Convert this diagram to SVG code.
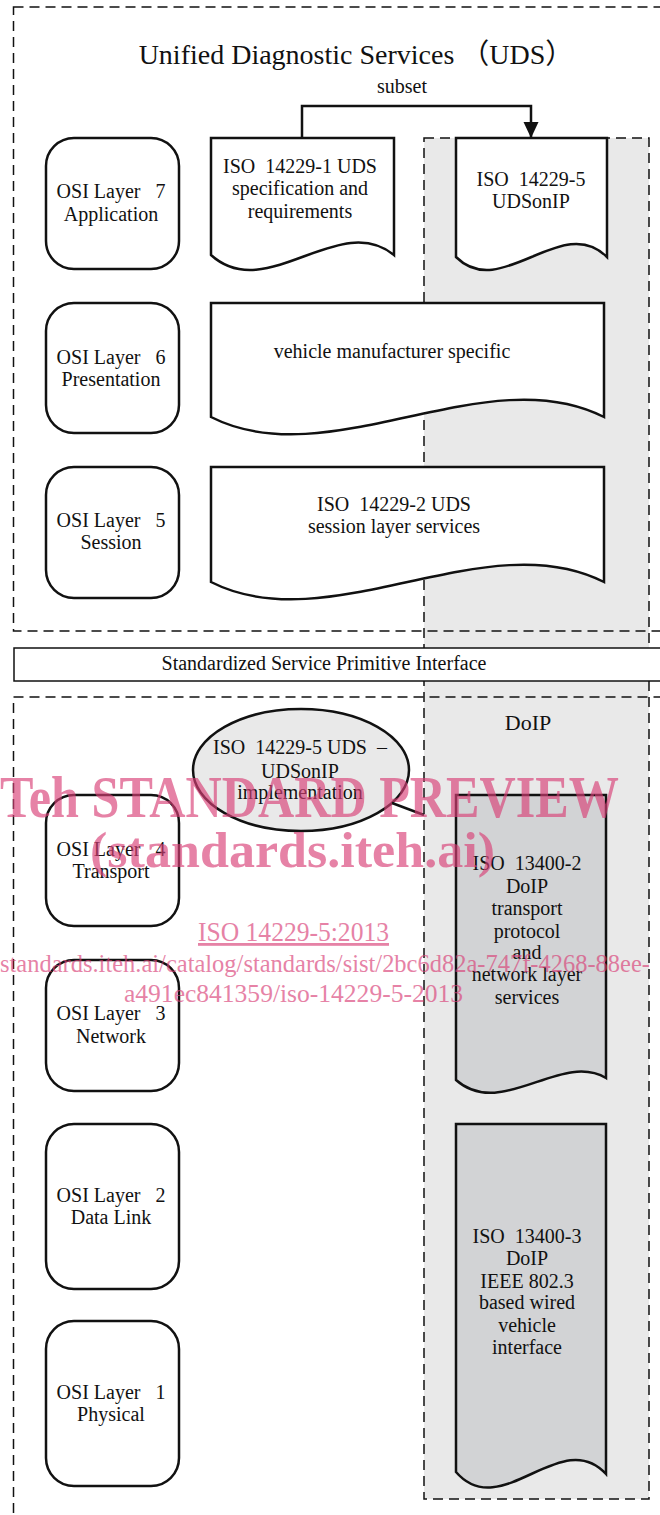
<svg xmlns="http://www.w3.org/2000/svg" width="660" height="1515" viewBox="0 0 660 1515">
<defs>
<style>
.t{font-family:"Liberation Serif","Noto Sans CJK SC",serif;font-size:20px;fill:#111;text-anchor:middle;white-space:pre}
.dash{fill:none;stroke:#111;stroke-width:1.5;stroke-dasharray:10 6}
.col{fill:#e9e9e9;stroke:#111;stroke-width:1.5;stroke-dasharray:10 6}
.node{fill:#fff;stroke:#111;stroke-width:2.5}
.gdoc{fill:#d2d3d5;stroke:#111;stroke-width:2.5}
.wm{font-family:"Liberation Serif",serif;fill:#d94077;opacity:0.65}
</style>
<marker id="arr" markerUnits="userSpaceOnUse" markerWidth="18" markerHeight="16" refX="16" refY="7.5" orient="auto">
<path d="M0,0 L16,7.5 L0,15 Z" fill="#111"/>
</marker>
</defs>
<rect width="660" height="1515" fill="#fff"/>

<g id="doip-column">
<rect x="424" y="138" width="225" height="1361" class="col"/>
</g>
<g id="uds-frame">
<rect x="13.5" y="7" width="700" height="624" class="dash"/>
<text class="t" x="356" y="64" style="font-size:28px">Unified Diagnostic Services （UDS）</text>
</g>
<g id="lower-frame">
<rect x="13.5" y="697" width="700" height="900" class="dash"/>
</g>
<g id="interface">
<rect x="14" y="648" width="700" height="33" fill="#fff" stroke="#111" stroke-width="1.5"/>
<text class="t" x="324" y="670">Standardized Service Primitive Interface</text>
</g>
<g id="doip-label">
<text class="t" x="528" y="730" style="font-size:22px">DoIP</text>
</g>

<g id="layer7"><rect class="node" x="46" y="138" width="133" height="131" rx="28"/>
<text class="t" x="111" y="198">OSI Layer   7</text><text class="t" x="111" y="221">Application</text></g>
<g id="layer6"><rect class="node" x="46" y="303" width="133" height="130" rx="28"/>
<text class="t" x="111" y="364">OSI Layer   6</text><text class="t" x="111" y="386">Presentation</text></g>
<g id="layer5"><rect class="node" x="46" y="467" width="133" height="131" rx="28"/>
<text class="t" x="111" y="527">OSI Layer   5</text><text class="t" x="111" y="549">Session</text></g>
<g id="layer4"><rect class="node" x="46" y="795" width="133" height="131" rx="28"/>
<text class="t" x="111" y="856">OSI Layer   4</text><text class="t" x="111" y="878">Transport</text></g>
<g id="layer3"><rect class="node" x="46" y="960" width="133" height="131" rx="28"/>
<text class="t" x="111" y="1020">OSI Layer   3</text><text class="t" x="111" y="1043">Network</text></g>
<g id="layer2"><rect class="node" x="46" y="1124" width="133" height="165" rx="28"/>
<text class="t" x="111" y="1202">OSI Layer   2</text><text class="t" x="111" y="1224">Data Link</text></g>
<g id="layer1"><rect class="node" x="46" y="1321" width="133" height="165" rx="28"/>
<text class="t" x="111" y="1399">OSI Layer   1</text><text class="t" x="111" y="1421">Physical</text></g>

<g id="iso14229-1"><path class="node" d="M211,138 H394 V255 C339,210 266,305 211,255 Z"/>
<text class="t" x="300" y="173">ISO  14229-1 UDS</text><text class="t" x="300" y="195">specification and</text><text class="t" x="300" y="218">requirements</text></g>
<g id="iso14229-5"><path class="node" d="M456,138 H607 V257 C562,212 501,302 456,257 Z"/>
<text class="t" x="531" y="186">ISO  14229-5</text><text class="t" x="531" y="208">UDSonIP</text></g>
<g id="vehicle-specific"><path class="node" d="M211,303 H604 V417 C486,357 329,477 211,417 Z"/>
<text class="t" x="392" y="358">vehicle manufacturer specific</text></g>
<g id="iso14229-2"><path class="node" d="M211,467 H604 V582 C486,522 329,642 211,582 Z"/>
<text class="t" x="394" y="511">ISO  14229-2 UDS</text><text class="t" x="394" y="533">session layer services</text></g>

<g id="udsonip-impl">
<line x1="392" y1="803" x2="424" y2="815" stroke="#111" stroke-width="2.5"/>
<ellipse cx="301" cy="770" rx="108" ry="61" fill="#e9e9e9" stroke="#111" stroke-width="2.5"/>
<text class="t" x="300" y="754">ISO  14229-5 UDS  –</text><text class="t" x="300" y="778">UDSonIP</text><text class="t" x="300" y="799">implementation</text></g>

<g id="iso13400-2"><path class="gdoc" d="M456,795 H606 V1078 C561,1051 501,1120 456,1080 Z"/>
<text class="t" x="527" y="870">ISO  13400-2</text><text class="t" x="527" y="893">DoIP</text><text class="t" x="527" y="915">transport</text><text class="t" x="527" y="938">protocol</text><text class="t" x="527" y="959">and</text><text class="t" x="527" y="981">network layer</text><text class="t" x="527" y="1004">services</text></g>
<g id="iso13400-3"><path class="gdoc" d="M456,1124 H606 V1474 C561,1425 501,1524 456,1472 Z"/>
<text class="t" x="527" y="1243">ISO  13400-3</text><text class="t" x="527" y="1265">DoIP</text><text class="t" x="527" y="1288">IEEE 802.3</text><text class="t" x="527" y="1309">based wired</text><text class="t" x="527" y="1332">vehicle</text><text class="t" x="527" y="1354">interface</text></g>

<g id="connectors">
<polyline points="302,138 302,106 531,106 531,138" fill="none" stroke="#111" stroke-width="2.5" marker-end="url(#arr)"/>
<text class="t" x="402" y="93">subset</text>
</g>

<g id="watermark">
<text class="wm" x="-14" y="817" style="font-size:60px;font-weight:bold" textLength="633" lengthAdjust="spacingAndGlyphs">iTeh STANDARD PREVIEW</text>
<text class="wm" x="90" y="867" style="font-size:50px;font-weight:bold" textLength="405" lengthAdjust="spacingAndGlyphs">(standards.iteh.ai)</text>
<text class="wm" x="198" y="941" style="font-size:28px;text-decoration:underline" textLength="191" lengthAdjust="spacingAndGlyphs">ISO 14229-5:2013</text>
<text class="wm" x="0" y="972" style="font-size:26px" textLength="650" lengthAdjust="spacingAndGlyphs">standards.iteh.ai/catalog/standards/sist/2bc6d82a-747f-4268-88ee-</text>
<text class="wm" x="124" y="1002" style="font-size:26px" textLength="339" lengthAdjust="spacingAndGlyphs">a491ec841359/iso-14229-5-2013</text>
</g>
</svg>
